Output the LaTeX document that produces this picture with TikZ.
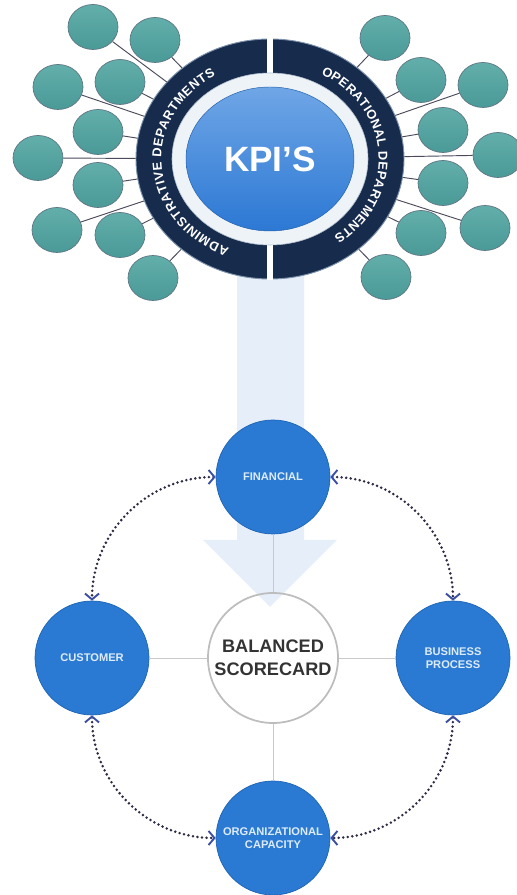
\documentclass[tikz,border=0pt]{standalone}
\usepackage{fontspec}
\setmainfont{Liberation Sans}
\usetikzlibrary{arrows.meta,decorations.text,shapes.geometric}

\definecolor{kpiNavy}{HTML}{172B4C}
\definecolor{kpiRim}{HTML}{7E93AB}
\definecolor{kpiPale}{HTML}{EEF3F8}
\definecolor{kpiBlue}{HTML}{2C78D4}
\definecolor{kpiBlueLight}{HTML}{6FA6E6}
\definecolor{kpiTeal}{HTML}{4A9A98}
\definecolor{kpiTealLight}{HTML}{62AEAA}
\definecolor{kpiTealEdge}{HTML}{5E7683}
\definecolor{kpiStem}{HTML}{4B4B5C}
\definecolor{kpiArrow}{HTML}{E6EEF9}
\definecolor{kpiCircle}{HTML}{2A7AD3}
\definecolor{kpiCircleEdge}{HTML}{1F64B5}
\definecolor{kpiLabel}{HTML}{DDEBFA}
\definecolor{kpiDots}{HTML}{2C2C44}
\definecolor{kpiTip}{HTML}{3A4FA2}
\definecolor{kpiGrey}{HTML}{C9C9C9}
\definecolor{kpiRing}{HTML}{BDBDBD}
\definecolor{kpiInk}{HTML}{333333}

\tikzset{
  cyctip/.tip={Straight Barb[length=5pt,width=12pt,line width=1.6pt,color=kpiTip]},
  deptbub/.style={ellipse,draw=kpiTealEdge,line width=0.6pt,top color=kpiTealLight,
    bottom color=kpiTeal,minimum width=1.50cm,minimum height=1.35cm,inner sep=0pt},
  stem/.style={draw=kpiStem,line width=0.8pt},
  perspective/.style={circle,draw=kpiCircleEdge,fill=kpiCircle,line width=0.6pt,
    minimum size=3.42cm,inner sep=0pt,align=center,text=kpiLabel,
    font=\bfseries\fontsize{9.5}{11}\selectfont},
  spoke/.style={draw=kpiGrey,line width=0.6pt},
  cyclink/.style={draw=kpiDots,line width=2.4pt,line cap=round,
    dash pattern=on 0pt off 3.9pt,cyctip-cyctip},
  ringtext/.style={decorate,decoration={text along path,text align=fit to path,
    text color=white,text={|\bfseries\fontsize{11}{13}\selectfont|#1}}}
}

\begin{document}
\begin{tikzpicture}[font=\fontsize{10}{12}\selectfont]
  \useasboundingbox (0,0) rectangle (15.51,26.85);

  % light arrow from the KPI ring down to the scorecard
  \path[fill=kpiArrow] (7.11,20.00) -- (9.12,20.00) -- (9.12,10.65) -- (10.11,10.65)
    -- (8.10,8.64) -- (6.09,10.65) -- (7.11,10.65) -- cycle;

  % KPI ring
  \node[ellipse,minimum width=8.04cm,minimum height=7.20cm,inner sep=0pt,
    fill=kpiNavy,draw=kpiRim,line width=0.8pt] (ring) at (8.10,22.08) {};
  \path[fill=white] (8.02,24.55) rectangle (8.18,25.72);
  \path[fill=white] (8.02,18.44) rectangle (8.18,19.61);
  \path[fill=kpiPale,draw=kpiRim!60,line width=0.5pt]
    (ring.center) ellipse [x radius=2.94, y radius=2.58];
  \node[ellipse,minimum width=5.04cm,minimum height=4.32cm,inner sep=0pt,
    top color=kpiBlueLight,bottom color=kpiBlue,draw=kpiBlue!80!black,line width=0.4pt,
    text=white,font=\bfseries\fontsize{30}{36}\selectfont] (kpi) at (ring.center) {KPI'S};

  \path[ringtext={ADMINISTRATIVE DEPARTMENTS}]
    ([shift={(248:3.26 and 2.88)}]ring.center)
    arc[start angle=248,end angle=120,x radius=3.26,y radius=2.88];
  \path[ringtext={OPERATIONAL DEPARTMENTS}]
    ([shift={(62:3.26 and 2.88)}]ring.center)
    arc[start angle=62,end angle=-54,x radius=3.26,y radius=2.88];

  % department bubbles
  \foreach \x/\y/\n in {
    2.79/26.04/adm1, 4.65/25.65/adm2, 1.74/24.24/adm3, 3.60/24.39/adm4, 2.94/22.89/adm5,
    1.14/22.11/adm6, 2.94/21.30/adm7, 1.71/19.95/adm8, 3.60/19.80/adm9, 4.59/18.51/adm10,
    11.55/25.71/ops1, 12.63/24.45/ops2, 14.49/24.30/ops3, 13.29/22.95/ops4, 14.94/22.20/ops5,
    13.29/21.36/ops6, 14.55/20.01/ops7, 12.63/19.86/ops8, 11.58/18.54/ops9
  }{
    \node[deptbub] (\n) at (\x,\y) {};
    \draw[stem] (\n) -- (ring);
  }

  % balanced scorecard
  \node[circle,draw=kpiRing,line width=1.5pt,minimum size=3.90cm,inner sep=0pt,
    align=center,text=kpiInk,font=\bfseries\fontsize{15.5}{19.5}\selectfont]
    (bsc) at (8.19,7.11) {BALANCED\\SCORECARD};
  \node[perspective] (fin) at (8.19,12.54) {FINANCIAL};
  \node[perspective] (cust) at (2.76,7.11) {CUSTOMER};
  \node[perspective] (bus) at (13.59,7.11) {BUSINESS\\PROCESS};
  \node[perspective] (org) at (8.19,1.71) {ORGANIZATIONAL\\CAPACITY};

  \draw[spoke] (fin) -- (bsc);
  \draw[spoke] (cust) -- (bsc);
  \draw[spoke] (bus) -- (bsc);
  \draw[spoke] (bsc) -- (org);

  \draw[cyclink] (fin.west) to[out=180,in=90] (cust.north);
  \draw[cyclink] (fin.east) to[out=0,in=90] (bus.north);
  \draw[cyclink] (cust.south) to[out=-90,in=180] (org.west);
  \draw[cyclink] (bus.south) to[out=-90,in=0] (org.east);
\end{tikzpicture}
\end{document}
